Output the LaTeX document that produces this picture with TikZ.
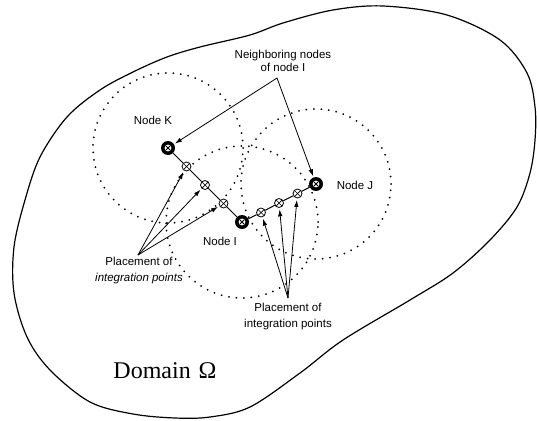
\documentclass[tikz,border=0pt]{standalone}
\usepackage{fontspec}
\setmainfont{Liberation Serif}
\newfontfamily\arialf{Liberation Sans}
\usetikzlibrary{arrows.meta}
\begin{document}
\begin{tikzpicture}[x=1pt,y=-1pt,
 bignode/.style={circle, fill=black, minimum size=14pt, inner sep=0pt,
   path picture={\fill[white] (path picture bounding box.center) circle (3.4pt);
     \draw[line width=0.9pt] ([shift={(-2pt,-2pt)}]path picture bounding box.center) -- ([shift={(2pt,2pt)}]path picture bounding box.center)
       ([shift={(-2pt,2pt)}]path picture bounding box.center) -- ([shift={(2pt,-2pt)}]path picture bounding box.center);}},
 ipt/.style={circle, draw, fill=white, minimum size=9pt, inner sep=0pt, line width=0.8pt,
   path picture={\draw[line width=0.7pt] ([shift={(-3pt,-3pt)}]path picture bounding box.center) -- ([shift={(3pt,3pt)}]path picture bounding box.center)
       ([shift={(-3pt,3pt)}]path picture bounding box.center) -- ([shift={(3pt,-3pt)}]path picture bounding box.center);}},
 lbl/.style={font=\arialf\fontsize{11.5}{13}\selectfont, align=center, inner sep=0pt},
 plbl/.style={font=\arialf\fontsize{11.5}{16}\selectfont, align=center, inner sep=0pt},
 arr/.style={-{Latex[length=7pt,width=4.5pt]}, line width=0.8pt},
 dotc/.style={line width=2pt, dash pattern=on 0pt off 7.5pt, line cap=round},
 conn/.style={line width=1pt}
]
\useasboundingbox (0,0) rectangle (537,420);

% domain boundary
\draw[line width=1.2pt] plot[smooth cycle, tension=0.55] coordinates {
 (90,402) (133,414) (175,418) (210,417) (250,407) (300,373) (343,340) (410,300)
 (453,273) (490,240) (517,207) (530,173) (535,140) (535,107) (527,73) (500,40)
 (447,15) (383,6) (333,10) (283,23) (250,35) (200,47) (167,57) (133,72)
 (100,90) (67,117) (40,157) (25,200) (14,247) (14,293) (27,337) (50,370)};

\coordinate (cK) at (168,148);
\coordinate (cI) at (242,222);
\coordinate (cJ) at (316,184);

% influence circles
\draw[dotc] (cK) circle (75pt);
\draw[dotc] (cI) circle (76pt);
\draw[dotc] (cJ) circle (75pt);

% nodes
\node[bignode] (K) at (cK) {};
\node[bignode] (I) at (cI) {};
\node[bignode] (J) at (cJ) {};
\node[ipt] (p1) at (186.5,166.5) {};
\node[ipt] (p2) at (205,185) {};
\node[ipt] (p3) at (223.5,203.5) {};
\node[ipt] (p4) at (261,212.5) {};
\node[ipt] (p5) at (279,203) {};
\node[ipt] (p6) at (297.5,193.5) {};

\draw[conn] (K) -- (p1) -- (p2) -- (p3) -- (I) -- (p4) -- (p5) -- (p6) -- (J);

% labels
\node[lbl] (nbl) at (283,61) {Neighboring nodes\\of node I};
\node[lbl] (lK) at (153,120) {Node K};
\node[lbl] (lI) at (220,241) {Node I};
\node[lbl] (lJ) at (355,185) {Node J};
\node[plbl] (pl) at (139,271) {Placement of\\\textit{integration points}};
\node[plbl] (pr) at (288,317) {Placement of\\integration points};
\node[font=\fontsize{24}{28}\selectfont, inner sep=0pt] (dom) at (165,371) {Domain\,\,Ω};

% arrows
\coordinate (nb) at (277,78);
\draw[arr, shorten >=1pt] (nb) -- (K);
\draw[arr, shorten >=1pt] (nb) -- (J);
\coordinate (al) at (138,255);
\draw[arr, shorten >=1.5pt] (al) -- (p1);
\draw[arr, shorten >=1.5pt] (al) -- (p2);
\draw[arr, shorten >=1.5pt] (al) -- (p3);
\coordinate (ar) at (288,298);
\draw[arr, shorten >=1.5pt] (ar) -- (p4);
\draw[arr, shorten >=1.5pt] (ar) -- (p5);
\draw[arr, shorten >=1.5pt] (ar) -- (p6);
\end{tikzpicture}
\end{document}
